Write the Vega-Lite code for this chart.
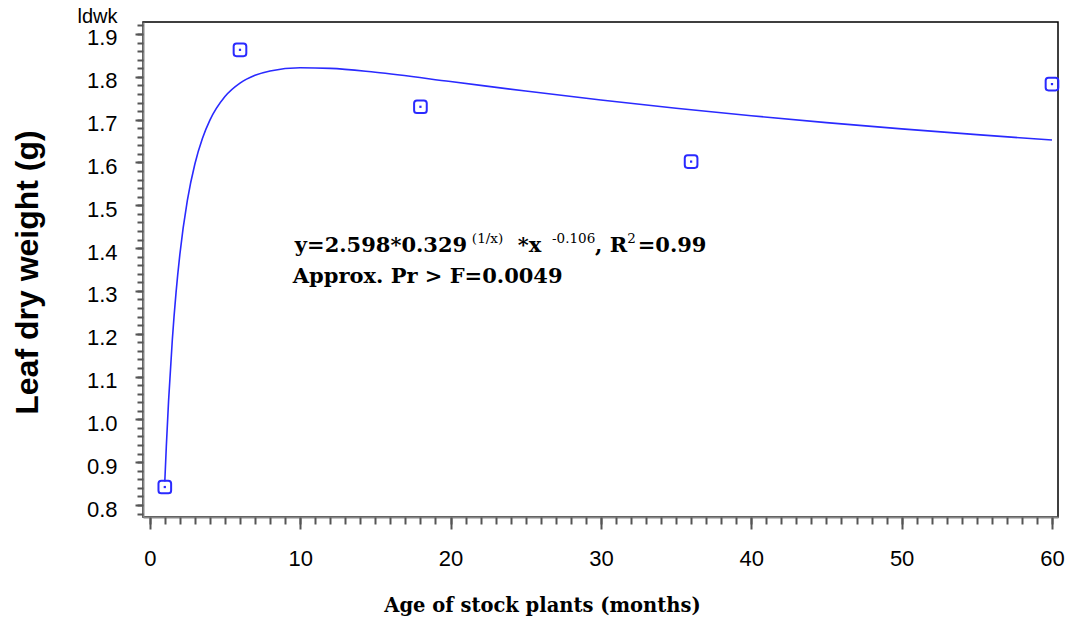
{
  "$schema": "https://vega.github.io/schema/vega-lite/v6.json",
  "autosize": "none",
  "width": 915,
  "height": 495,
  "padding": {"left": 143, "top": 22, "right": 7, "bottom": 100},
  "background": "white",
  "config": {
    "view": {"stroke": "black", "strokeWidth": 1.5},
    "axis": {"grid": false}
  },
  "datasets": {
    "curve": [
      {"age": 1, "ldw": 0.8547}, {"age": 1.1, "ldw": 0.9361}, {"age": 1.25, "ldw": 1.0426},
      {"age": 1.5, "ldw": 1.186}, {"age": 1.75, "ldw": 1.2971}, {"age": 2, "ldw": 1.3847},
      {"age": 2.5, "ldw": 1.5113}, {"age": 3, "ldw": 1.5964}, {"age": 3.5, "ldw": 1.6559},
      {"age": 4, "ldw": 1.6987}, {"age": 5, "ldw": 1.7538}, {"age": 6, "ldw": 1.7852},
      {"age": 7, "ldw": 1.8034}, {"age": 8, "ldw": 1.8137}, {"age": 10, "ldw": 1.8212},
      {"age": 12, "ldw": 1.8198}, {"age": 15, "ldw": 1.8105}, {"age": 20, "ldw": 1.789},
      {"age": 25, "ldw": 1.7667}, {"age": 30, "ldw": 1.7458}, {"age": 35, "ldw": 1.7265},
      {"age": 40, "ldw": 1.7091}, {"age": 45, "ldw": 1.6931}, {"age": 50, "ldw": 1.6784},
      {"age": 55, "ldw": 1.6649}, {"age": 60, "ldw": 1.6524}
    ],
    "obs": [
      {"age": 1, "ldw": 0.842},
      {"age": 6, "ldw": 1.863},
      {"age": 18, "ldw": 1.73},
      {"age": 36, "ldw": 1.602},
      {"age": 60, "ldw": 1.783}
    ],
    "eqmain": [
      {"label": "y=2.598*0.329", "nx": 9.65, "ny": 1.39},
      {"label": "*x", "nx": 24.48, "ny": 1.39},
      {"label": ", R", "nx": 29.61, "ny": 1.39},
      {"label": "=0.99", "nx": 32.45, "ny": 1.39},
      {"label": "Approx. Pr > F=0.0049", "nx": 9.51, "ny": 1.3175}
    ],
    "eqsup": [
      {"label": "(1/x)", "nx": 21.42, "ny": 1.413},
      {"label": "-0.106", "nx": 26.75, "ny": 1.413},
      {"label": "2", "nx": 31.75, "ny": 1.413}
    ]
  },
  "layer": [
    {
      "data": {"name": "curve"},
      "mark": {"type": "line", "color": "#2a2aff", "strokeWidth": 1.6, "interpolate": "monotone"},
      "encoding": {
        "x": {
          "field": "age", "type": "quantitative",
          "scale": {"domain": [-0.45, 60.4], "nice": false, "zero": false},
          "axis": {
            "orient": "bottom",
            "values": [0, 10, 20, 30, 40, 50, 60],
            "tickSize": 12, "tickWidth": 2, "tickColor": "#555",
            "domainColor": "#888", "domainWidth": 2,
            "labelPadding": 19, "labelFont": "Liberation Sans Narrow, Liberation Sans", "labelFontSize": 22, "labelColor": "black",
            "title": "Age of stock plants (months)",
            "titleFont": "DejaVu Serif", "titleFontWeight": "bold", "titleFontSize": 19.5, "titleColor": "black",
            "titleX": 399, "titleY": 88, "titleBaseline": "middle", "titleAlign": "center"
          }
        },
        "y": {
          "field": "ldw", "type": "quantitative",
          "scale": {"domain": [0.772, 1.928], "nice": false, "zero": false},
          "axis": {
            "orient": "left",
            "values": [0.8, 0.9, 1.0, 1.1, 1.2, 1.3, 1.4, 1.5, 1.6, 1.7, 1.8, 1.9],
            "format": ".1f",
            "tickSize": 8, "tickWidth": 2, "tickColor": "#555",
            "domainColor": "#888", "domainWidth": 2,
            "labelPadding": 18, "labelOffset": 4, "labelFont": "Liberation Sans Narrow, Liberation Sans", "labelFontSize": 22, "labelColor": "black",
            "title": "Leaf dry weight (g)",
            "titleFont": "Liberation Sans", "titleFontWeight": "bold", "titleFontSize": 32, "titleColor": "black",
            "titleAngle": -90, "titleX": -116, "titleY": 250, "titleAlign": "center", "titleBaseline": "middle"
          }
        }
      }
    },
    {
      "data": {"name": "obs"},
      "mark": {"type": "point", "shape": "M -0.55,-1 L 0.55,-1 Q 1,-1 1,-0.55 L 1,0.55 Q 1,1 0.55,1 L -0.55,1 Q -1,1 -1,0.55 L -1,-0.55 Q -1,-1 -0.55,-1 Z", "size": 160, "stroke": "#2a2aff", "strokeWidth": 2, "filled": false, "opacity": 1},
      "encoding": {
        "x": {
          "field": "age", "type": "quantitative",
          "axis": {
            "orient": "bottom",
            "values": [0,1,2,3,4,5,6,7,8,9,10,11,12,13,14,15,16,17,18,19,20,21,22,23,24,25,26,27,28,29,30,31,32,33,34,35,36,37,38,39,40,41,42,43,44,45,46,47,48,49,50,51,52,53,54,55,56,57,58,59,60],
            "tickSize": 7, "tickWidth": 2, "tickColor": "#555",
            "labels": false, "domain": false, "title": null
          }
        },
        "y": {
          "field": "ldw", "type": "quantitative",
          "axis": {
            "orient": "left",
            "values": [0.78,0.8,0.82,0.84,0.86,0.88,0.9,0.92,0.94,0.96,0.98,1.0,1.02,1.04,1.06,1.08,1.1,1.12,1.14,1.16,1.18,1.2,1.22,1.24,1.26,1.28,1.3,1.32,1.34,1.36,1.38,1.4,1.42,1.44,1.46,1.48,1.5,1.52,1.54,1.56,1.58,1.6,1.62,1.64,1.66,1.68,1.7,1.72,1.74,1.76,1.78,1.8,1.82,1.84,1.86,1.88,1.9,1.92],
            "tickSize": 6, "tickWidth": 2, "tickColor": "#555",
            "labels": false, "domain": false,
            "title": "ldwk",
            "titleFont": "Liberation Sans Narrow, Liberation Sans", "titleFontWeight": "normal", "titleFontSize": 20, "titleColor": "black",
            "titleAngle": 0, "titleX": -26, "titleY": 0, "titleAlign": "right", "titleBaseline": "alphabetic"
          }
        }
      }
    },
    {
      "data": {"name": "obs"},
      "mark": {"type": "point", "shape": "square", "size": 5, "fill": "#2a2aff", "filled": true, "opacity": 1},
      "encoding": {
        "x": {"field": "age", "type": "quantitative", "axis": null},
        "y": {"field": "ldw", "type": "quantitative", "axis": null}
      }
    },
    {
      "data": {"name": "eqmain"},
      "mark": {"type": "text", "font": "DejaVu Serif", "fontWeight": "bold", "fontSize": 21, "align": "left", "baseline": "alphabetic", "color": "black"},
      "encoding": {
        "x": {"field": "nx", "type": "quantitative", "axis": null},
        "y": {"field": "ny", "type": "quantitative", "axis": null},
        "text": {"field": "label"}
      }
    },
    {
      "data": {"name": "eqsup"},
      "mark": {"type": "text", "font": "DejaVu Serif", "fontSize": 13.5, "align": "left", "baseline": "alphabetic", "color": "black"},
      "encoding": {
        "x": {"field": "nx", "type": "quantitative", "axis": null},
        "y": {"field": "ny", "type": "quantitative", "axis": null},
        "text": {"field": "label"}
      }
    }
  ],
  "resolve": {"axis": {"x": "independent", "y": "independent"}}
}
